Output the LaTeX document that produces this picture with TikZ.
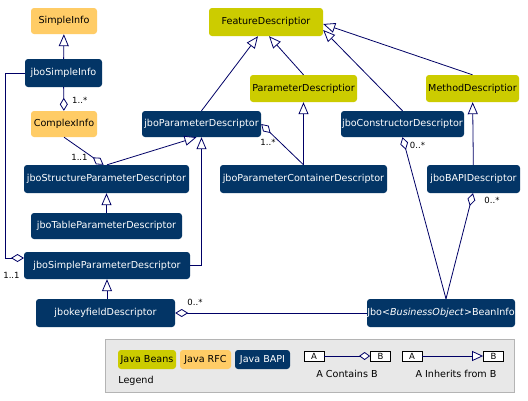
\documentclass[tikz,border=0pt]{standalone}
\usepackage{fontspec}
\setmainfont{DejaVu Sans}
\usetikzlibrary{arrows.meta}
\definecolor{navy}{HTML}{033566}
\definecolor{olivebox}{HTML}{CCCC00}
\definecolor{rfcbox}{HTML}{FFCC66}
\definecolor{linecol}{HTML}{000066}
\definecolor{legbg}{HTML}{E8E8E8}
\definecolor{legborder}{HTML}{B4B4B4}
\begin{document}
\begin{tikzpicture}[x=1pt,y=-1pt,font=\fontsize{9.6}{11}\selectfont,
  box/.style={rounded corners=3pt,inner sep=0pt,anchor=center},
  bapi/.style={box,fill=navy,text=white},
  beans/.style={box,fill=olivebox,text=black},
  rfc/.style={box,fill=rfcbox,text=black},
  inh/.style={draw=linecol,line width=0.8pt,-{Triangle[open,length=12pt,width=10pt,fill=white]}},
  cont/.style={draw=linecol,line width=0.8pt,-{Diamond[open,length=13pt,width=8pt,fill=white]}},
  mult/.style={font=\fontsize{8.5}{9}\selectfont,inner sep=0pt,text=black},
  abox/.style={draw=black,fill=white,line width=0.8pt,minimum width=20pt,minimum height=10pt,inner sep=0pt,font=\fontsize{8.5}{9}\selectfont}]
\useasboundingbox[fill=white] (0,0) rectangle (528,400);
% nodes
\node[rfc,minimum width=66pt,minimum height=26pt] (si) at (64,21) {SimpleInfo};
\node[bapi,minimum width=77pt,minimum height=28pt] (jsi) at (63.5,73) {jboSimpleInfo};
\node[rfc,minimum width=66pt,minimum height=26pt] (ci) at (64,124) {ComplexInfo};
\node[beans,minimum width=114pt,minimum height=28pt] (fd) at (266,22) {FeatureDescriptior};
\node[beans,minimum width=107pt,minimum height=27pt] (pd) at (303.5,88.5) {ParameterDescriptior};
\node[beans,minimum width=93pt,minimum height=27pt] (md) at (472.5,88.5) {MethodDescriptior};
\node[bapi,minimum width=119pt,minimum height=26pt] (jpd) at (201.5,124) {jboParameterDescriptor};
\node[bapi,minimum width=123pt,minimum height=26pt] (jcd) at (402.5,124) {jboConstructorDescriptor};
\node[bapi,minimum width=93pt,minimum height=28pt] (jbapi) at (473.5,179) {jboBAPIDescriptor};
\node[bapi,minimum width=167pt,minimum height=28pt] (jpcd) at (303.5,179) {jboParameterContainerDescriptor};
\node[bapi,minimum width=165pt,minimum height=28pt] (jstruct) at (106.5,179) {jboStructureParameterDescriptor};
\node[bapi,minimum width=151pt,minimum height=26pt] (jtpd) at (106.5,226) {jboTableParameterDescriptor};
\node[bapi,minimum width=166pt,minimum height=27pt] (jspd) at (107,265.5) {jboSimpleParameterDescriptor};
\node[bapi,minimum width=139pt,minimum height=28pt] (jkfd) at (105.5,313) {jbokeyfieldDescriptor};
\node[bapi,minimum width=148pt,minimum height=28pt] (bean) at (441,313) {Jbo<\textit{BusinessObject}>BeanInfo};
% connectors
\draw[inh] (jsi) -- (si);
\draw[cont] (jsi) -- (ci);
\node[mult,anchor=west] (m1) at (72,100) {1..*};
\coordinate (jspdL) at (24,258);
\draw[cont] (jsi.west) -| (5,258) -- (jspdL);
\node[mult] (m2) at (11.5,275) {1..1};
\draw[inh] (jpd.north) -- ([xshift=-8pt]fd.south);
\draw[inh] (pd.north) -- ([xshift=3pt]fd.south);
\draw[inh] (jcd.north) -- ([yshift=-8pt]fd.east);
\draw[inh] (md.north) -- ([yshift=-2pt]fd.east);
\draw[inh] (jbapi) -- (md);
\draw[inh] (jpcd) -- (pd);
\draw[cont] (jpcd.north) -- (jpd.east);
\node[mult] (m3) at (268,142) {1..*};
\draw[inh] ([xshift=0.5pt]jstruct.north) -- ([xshift=-5pt]jpd.south);
\draw[cont] (ci.south) -- ([xshift=-3pt]jstruct.north);
\node[mult] (m4) at (79.5,157) {1..1};
\draw[inh] (jspd.east) -| (jpd.south);
\draw[inh] (jtpd) -- (jstruct);
\draw[inh] (jspd.south |- jkfd.north) -- (jspd.south);
\draw[cont] (bean.west) -- (jkfd.east);
\node[mult] (m5) at (195,302) {0..*};
\draw[cont] ([xshift=5pt]bean.north) -- (jcd.south);
\node[mult] (m6) at (417.5,145) {0..*};
\draw[cont] ([xshift=5pt]bean.north) -- ([xshift=-0.5pt]jbapi.south);
\node[mult] (m7) at (492,200) {0..*};
% legend
\node[draw=legborder,fill=legbg,line width=1pt,minimum width=409pt,minimum height=53pt,inner sep=0pt] (leg) at (309.5,365.5) {};
\node[beans,minimum width=58pt,minimum height=19pt] (lb) at (147,359.5) {Java Beans};
\node[rfc,minimum width=51pt,minimum height=19pt] (lr) at (205.5,359.5) {Java RFC};
\node[bapi,minimum width=55pt,minimum height=19pt] (lj) at (262.5,359.5) {Java BAPI};
\node[inner sep=0pt] (legt) at (136,381) {Legend};
\node[abox] (ca) at (314,356) {A};
\node[abox] (cb) at (380.5,356) {B};
\draw[draw=linecol,line width=0.8pt,-{Diamond[open,length=11pt,width=8pt,fill=white]}] (ca) -- (cb);
\node[inner sep=0pt] (ct) at (347,373.5) {A Contains B};
\node[abox] (ia) at (412,356) {A};
\node[abox] (ib) at (493.5,356) {B};
\draw[draw=linecol,line width=0.8pt,-{Triangle[open,length=11pt,width=10pt,fill=white]}] (ia) -- (ib);
\node[inner sep=0pt] (it) at (456,373.5) {A Inherits from B};
\end{tikzpicture}
\end{document}
